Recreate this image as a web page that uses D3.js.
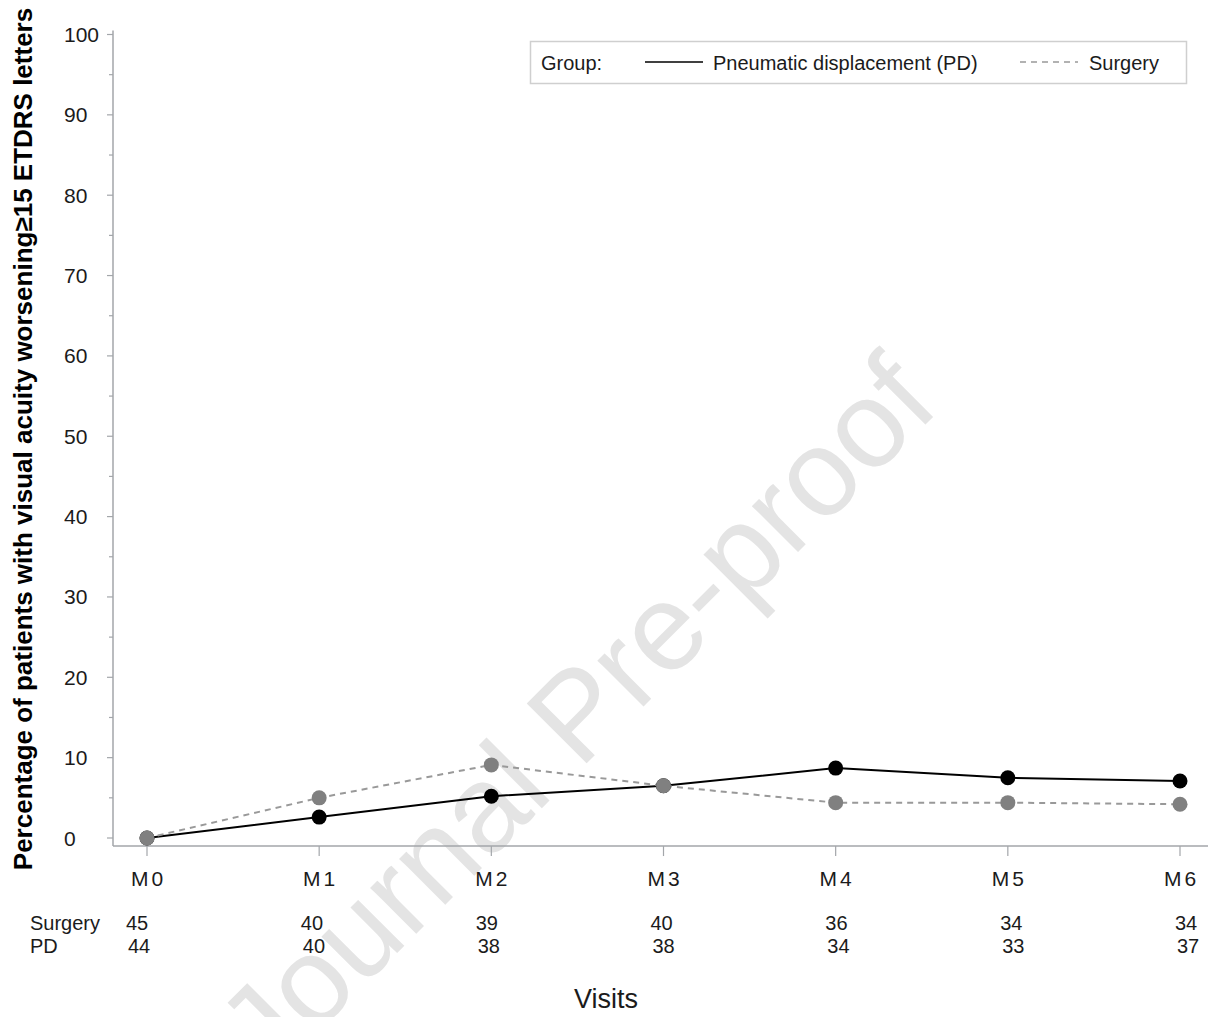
<!DOCTYPE html>
<html>
<head>
<meta charset="utf-8">
<script src="https://cdn.jsdelivr.net/npm/d3@7"></script>
<style>
  body { margin: 0; background: #fff; }
  svg { display: block; font-family: "Liberation Sans", Arial, sans-serif; }
</style>
</head>
<body>
<svg id="chart" width="1216" height="1017"></svg>
<script>
// visits and percentages
var visits = ["M0", "M1", "M2", "M3", "M4", "M5", "M6"];
var pdValues      = [0, 2.6, 5.2, 6.5, 8.7, 7.5, 7.1];
var surgeryValues = [0, 5.0, 9.1, 6.5, 4.4, 4.4, 4.2];

// patients at each visit
var surgeryAtRisk = [45, 40, 39, 40, 36, 34, 34];
var pdAtRisk      = [44, 40, 38, 38, 34, 33, 37];

var yTicks = [0, 10, 20, 30, 40, 50, 60, 70, 80, 90, 100];
var yMinorTicks = [5, 15, 25, 35, 45, 55, 65, 75, 85, 95];

var axisColor = "#a3a6aa";
var textColor = "#1b1b1b";

var svg = d3.select("#chart");

// watermark behind everything
svg.append("text")
	.attr("transform", "translate(606,744) rotate(-45)")
	.attr("text-anchor", "middle")
	.style("font-size", "123px")
	.style("fill", "#e4e4e4")
	.text("Journal Pre-proof");

var x = d3.scalePoint().domain(visits).range([147, 1180]);
var y = d3.scaleLinear().domain([0, 100]).range([838, 34.5]);
// the counts table below the axis is spread a little differently
var xTable = d3.scalePoint().domain(visits).range([126, 1175]);

// axis lines
svg.append("line")
	.attr("x1", 113).attr("x2", 113)
	.attr("y1", y(100.5)).attr("y2", y(-1))
	.attr("stroke", axisColor).attr("stroke-width", 1.5);
svg.append("line")
	.attr("x1", 113).attr("x2", 1208)
	.attr("y1", y(-1)).attr("y2", y(-1))
	.attr("stroke", axisColor).attr("stroke-width", 1.5);

// y ticks, major and minor
svg.selectAll(".ytick").data(yTicks).enter().append("line")
	.attr("x1", 107).attr("x2", 113)
	.attr("y1", function(d){ return y(d); }).attr("y2", function(d){ return y(d); })
	.attr("stroke", axisColor).attr("stroke-width", 1.2);
svg.selectAll(".yminor").data(yMinorTicks).enter().append("line")
	.attr("x1", 109).attr("x2", 113)
	.attr("y1", function(d){ return y(d); }).attr("y2", function(d){ return y(d); })
	.attr("stroke", axisColor).attr("stroke-width", 1.2);
svg.selectAll(".ylab").data(yTicks).enter().append("text")
	.attr("x", 64)
	.attr("y", function(d){ return y(d) + 7.5; })
	.style("font-size", "21px")
	.style("fill", textColor)
	.text(function(d){ return d; });

// x ticks
svg.selectAll(".xtick").data(visits).enter().append("line")
	.attr("x1", function(d){ return x(d); }).attr("x2", function(d){ return x(d); })
	.attr("y1", y(-1)).attr("y2", y(-1) + 10)
	.attr("stroke", axisColor).attr("stroke-width", 1.2);
svg.selectAll(".xlab").data(visits).enter().append("text")
	.attr("x", function(d){ return x(d) + 1.5; })
	.attr("y", 886)
	.attr("text-anchor", "middle")
	.style("font-size", "21px")
	.style("letter-spacing", "3px")
	.style("fill", textColor)
	.text(function(d){ return d; });

// at-risk table
svg.append("text").attr("x", 30).attr("y", 930)
	.style("font-size", "20px").style("fill", textColor).text("Surgery");
svg.append("text").attr("x", 30).attr("y", 953)
	.style("font-size", "20px").style("fill", textColor).text("PD");
svg.selectAll(".nsurg").data(surgeryAtRisk).enter().append("text")
	.attr("x", function(d, i){ return xTable(visits[i]); })
	.attr("y", 930)
	.style("font-size", "20px").style("fill", textColor)
	.text(function(d){ return d; });
svg.selectAll(".npd").data(pdAtRisk).enter().append("text")
	.attr("x", function(d, i){ return xTable(visits[i]) + 2; })
	.attr("y", 953)
	.style("font-size", "20px").style("fill", textColor)
	.text(function(d){ return d; });

// axis titles
svg.append("text")
	.attr("x", 606).attr("y", 1008)
	.attr("text-anchor", "middle")
	.style("font-size", "27px").style("fill", textColor)
	.text("Visits");
svg.append("text")
	.attr("transform", "translate(32,439) rotate(-90)")
	.attr("text-anchor", "middle")
	.style("font-size", "26px").style("font-weight", "bold").style("fill", "#000")
	.text("Percentage of patients with visual acuity worsening\u226515 ETDRS letters");

// series
var line = d3.line()
	.x(function(d, i){ return x(visits[i]); })
	.y(function(d){ return y(d); });

svg.append("path").datum(pdValues)
	.attr("d", line)
	.attr("fill", "none").attr("stroke", "#000").attr("stroke-width", 2);
svg.append("path").datum(surgeryValues)
	.attr("d", line)
	.attr("fill", "none").attr("stroke", "#999").attr("stroke-width", 2)
	.attr("stroke-dasharray", "6,5");

svg.selectAll(".pdpt").data(pdValues).enter().append("circle")
	.attr("cx", function(d, i){ return x(visits[i]); })
	.attr("cy", function(d){ return y(d); })
	.attr("r", 7.5).attr("fill", "#000");
svg.selectAll(".surgpt").data(surgeryValues).enter().append("circle")
	.attr("cx", function(d, i){ return x(visits[i]); })
	.attr("cy", function(d){ return y(d); })
	.attr("r", 7.5).attr("fill", "#808080");

// legend
var legend = svg.append("g");
legend.append("rect")
	.attr("x", 530.5).attr("y", 41.5).attr("width", 656).attr("height", 42)
	.attr("fill", "#fff").attr("stroke", "#cfcfcf").attr("stroke-width", 1.5);
legend.append("text").attr("x", 541).attr("y", 70)
	.style("font-size", "20px").style("fill", textColor).text("Group:");
legend.append("line").attr("x1", 645).attr("x2", 703).attr("y1", 62).attr("y2", 62)
	.attr("stroke", "#000").attr("stroke-width", 1.5);
legend.append("text").attr("x", 713).attr("y", 70)
	.style("font-size", "20px").style("fill", textColor).text("Pneumatic displacement (PD)");
legend.append("line").attr("x1", 1020).attr("x2", 1078).attr("y1", 62).attr("y2", 62)
	.attr("stroke", "#999").attr("stroke-width", 1.5).attr("stroke-dasharray", "6,5");
legend.append("text").attr("x", 1089).attr("y", 70)
	.style("font-size", "20px").style("fill", textColor).text("Surgery");
</script>
</body>
</html>
